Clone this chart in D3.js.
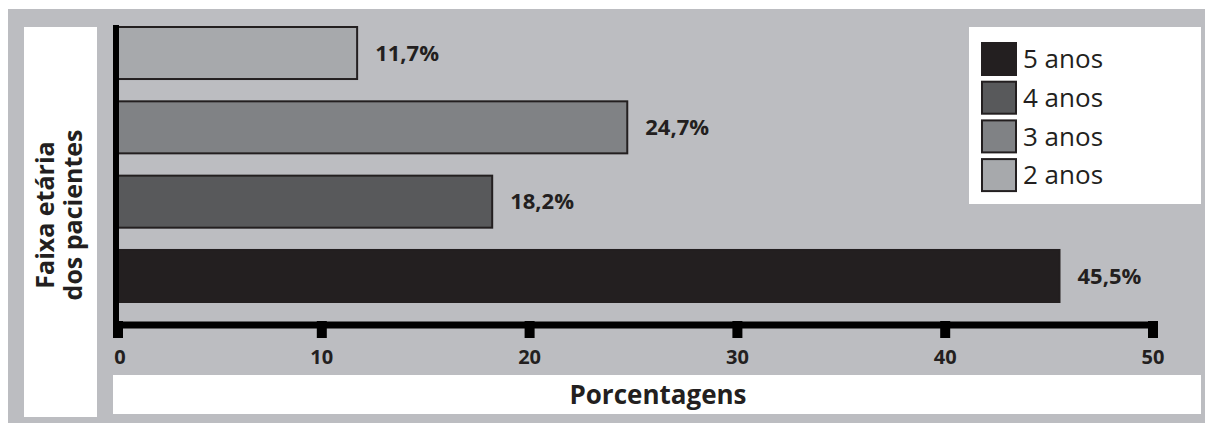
<!DOCTYPE html>
<html lang="pt">
<head>
  <meta charset="UTF-8">
  <title>Faixa etária dos pacientes</title>
  <script src="https://d3js.org/d3.v7.min.js"></script>
  <style>
    body { margin: 0; background: #fff; }
    svg { display: block; font-family: "Open Sans", "Noto Sans", sans-serif; }
  </style>
</head>
<body>
  <svg id="chart" width="1205" height="423"></svg>
  <script>
    // dados
    const categories = ["2 anos", "3 anos", "4 anos", "5 anos"];
    const values = [11.7, 24.7, 18.2, 45.5];
    const colors = ["#a7a9ac", "#808285", "#58595b", "#231f20"];
    const legendOrder = ["5 anos", "4 anos", "3 anos", "2 anos"];
    const ticks = [0, 10, 20, 30, 40, 50];

    const svg = d3.select("#chart");
    const color = d3.scaleOrdinal().domain(categories).range(colors);
    const fmt = v => d3.format(".1f")(v).replace(".", ",") + "%";

    // fundo cinza e painéis brancos
    svg.append("rect").attr("x", 8).attr("y", 9).attr("width", 1197).attr("height", 414).attr("fill", "#bcbdc1");
    svg.append("rect").attr("x", 24).attr("y", 27).attr("width", 73).attr("height", 390).attr("fill", "#fff");
    svg.append("rect").attr("x", 113).attr("y", 375).attr("width", 1088).attr("height", 39).attr("fill", "#fff");

    const x = d3.scaleLinear().domain([0, 50]).range([114, 1153]);
    const y = d3.scaleBand().domain(categories).range([27, 302]).paddingInner(0.3);

    // barras
    svg.selectAll("rect.bar").data(categories).join("rect")
      .attr("class", "bar")
      .attr("x", x(0))
      .attr("y", d => y(d))
      .attr("width", (d, i) => x(values[i]) - x(0))
      .attr("height", y.bandwidth())
      .attr("fill", d => color(d))
      .attr("stroke", "#231f20")
      .attr("stroke-width", 2);

    // rótulos de valor
    svg.selectAll("text.val").data(categories).join("text")
      .attr("class", "val")
      .attr("x", (d, i) => x(values[i]) + 18)
      .attr("y", d => y(d) + y.bandwidth() / 2)
      .attr("dy", "0.35em")
      .attr("font-size", 22)
      .attr("font-weight", 700)
      .attr("fill", "#231f20")
      .text((d, i) => fmt(values[i]));

    // eixos
    svg.append("line").attr("x1", 116).attr("x2", 116).attr("y1", 25).attr("y2", 337)
      .attr("stroke", "#000").attr("stroke-width", 6);
    svg.append("line").attr("x1", 113).attr("x2", x(50) + 5).attr("y1", 325).attr("y2", 325)
      .attr("stroke", "#000").attr("stroke-width", 7);

    const xAxis = svg.append("g");
    xAxis.selectAll("rect").data(ticks).join("rect")
      .attr("x", d => Math.max(x(d), 118) - 5)
      .attr("y", 321)
      .attr("width", 10)
      .attr("height", 17)
      .attr("fill", "#000");
    xAxis.selectAll("text").data(ticks).join("text")
      .attr("x", d => Math.max(x(d), 120))
      .attr("y", 357)
      .attr("dy", "0.35em")
      .attr("text-anchor", "middle")
      .attr("font-size", 20)
      .attr("font-weight", 700)
      .attr("fill", "#231f20")
      .text(d => d);

    // títulos
    svg.append("text")
      .attr("x", 658).attr("y", 395).attr("dy", "0.35em")
      .attr("text-anchor", "middle")
      .attr("font-size", 26).attr("font-weight", 700).attr("fill", "#231f20")
      .text("Porcentagens");

    const yTitle = svg.append("text")
      .attr("transform", "translate(60,215) rotate(-90)")
      .attr("text-anchor", "middle")
      .attr("font-size", 25).attr("font-weight", 700).attr("fill", "#231f20");
    yTitle.append("tspan").attr("x", 0).attr("y", -6).text("Faixa etária");
    yTitle.append("tspan").attr("x", 0).attr("y", 22).text("dos pacientes");

    // legenda
    svg.append("rect").attr("x", 969).attr("y", 27).attr("width", 232).attr("height", 177).attr("fill", "#fff");
    const leg = svg.append("g").selectAll("g").data(legendOrder).join("g")
      .attr("transform", (d, i) => `translate(982,${43 + i * 38.7})`);
    leg.append("rect")
      .attr("width", 34).attr("height", 32)
      .attr("fill", d => color(d))
      .attr("stroke", "#231f20").attr("stroke-width", 2);
    leg.append("text")
      .attr("x", 41).attr("y", 16).attr("dy", "0.35em")
      .attr("font-size", 26).attr("fill", "#231f20")
      .text(d => d);
  </script>
</body>
</html>
